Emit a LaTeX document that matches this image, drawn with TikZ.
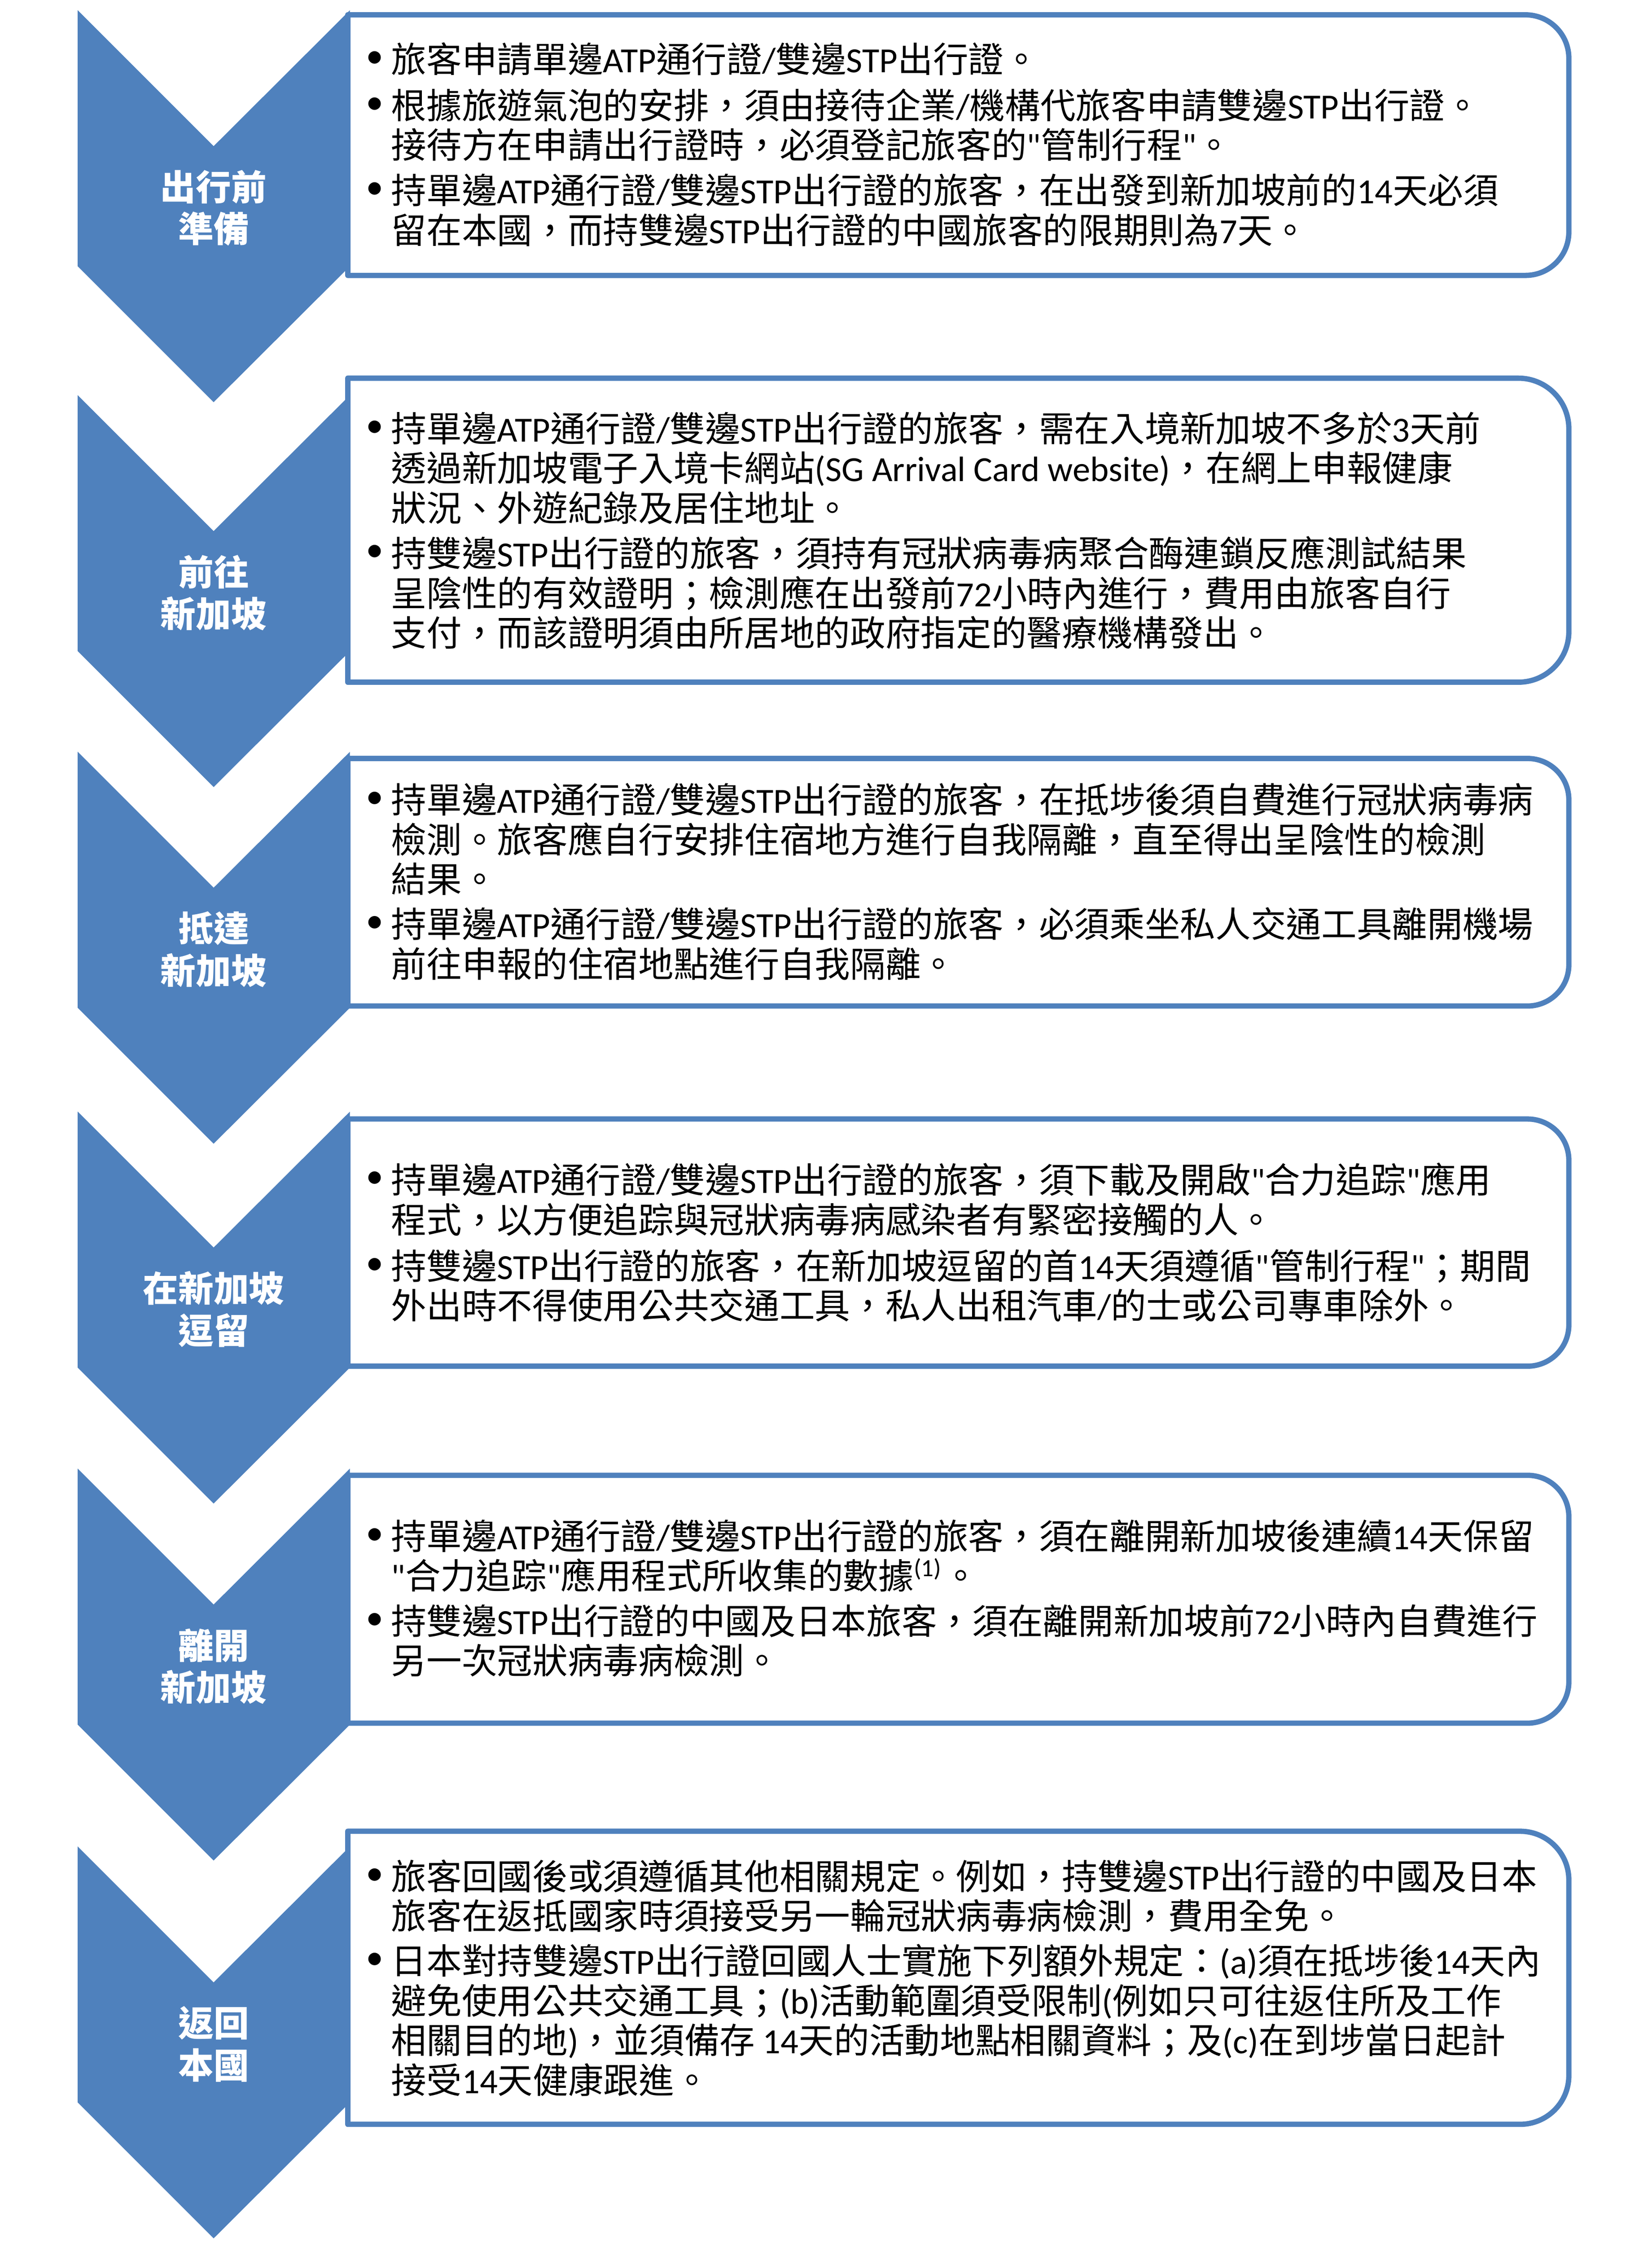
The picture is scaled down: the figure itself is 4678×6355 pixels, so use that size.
\documentclass[tikz,border=0pt]{standalone}
\usepackage{fontspec}
\setmainfont{Noto Sans CJK TC}
\newfontfamily\lat{Carlito}
\newcommand\en[1]{{\lat#1}}
\definecolor{chevblue}{RGB}{79,129,189}
\tikzset{
  chev/.style={fill=chevblue},
  panel/.style={draw=chevblue, line width=1.5pt, fill=white, line join=round},
  title/.style={text=white, font=\bfseries\fontsize{10}{11.9}\selectfont, align=center, inner sep=0pt},
  dot/.style={font=\lat\fontsize{10}{11.25}\selectfont, inner sep=0pt},
  para/.style={anchor=north west, font=\fontsize{10}{11.25}\selectfont, align=left, inner sep=0pt}
}
\begin{document}
\begin{tikzpicture}[x=0.1pt, y=-0.1pt]
  \useasboundingbox (0,0) rectangle (4678,6355);
  % text panels
  \draw[panel] (985,42) -- (2700,42) [rounded corners=12.3pt] -- (4443,42) -- (4443,780) -- (2700,780) [sharp corners] -- (985,780) -- cycle;
  \draw[panel] (985,1071) -- (2700,1071) [rounded corners=14.3pt] -- (4443,1071) -- (4443,1932) -- (2700,1932) [sharp corners] -- (985,1932) -- cycle;
  \draw[panel] (985,2148) -- (2700,2148) [rounded corners=11.7pt] -- (4443,2148) -- (4443,2849) -- (2700,2849) [sharp corners] -- (985,2849) -- cycle;
  \draw[panel] (985,3169) -- (2700,3169) [rounded corners=11.7pt] -- (4443,3169) -- (4443,3869) -- (2700,3869) [sharp corners] -- (985,3869) -- cycle;
  \draw[panel] (985,4178) -- (2700,4178) [rounded corners=11.7pt] -- (4443,4178) -- (4443,4880) -- (2700,4880) [sharp corners] -- (985,4880) -- cycle;
  \draw[panel] (985,5186) -- (2700,5186) [rounded corners=13.8pt] -- (4443,5186) -- (4443,6016) -- (2700,6016) [sharp corners] -- (985,6016) -- cycle;
  % chevrons
  \fill[chev] (220,29) -- (605,414) -- (991,29) -- (991,754) -- (605,1139) -- (220,754) -- cycle;
  \fill[chev] (220,1119) -- (605,1504) -- (991,1119) -- (991,1844) -- (605,2229) -- (220,1844) -- cycle;
  \fill[chev] (220,2129) -- (605,2514) -- (991,2129) -- (991,2854) -- (605,3239) -- (220,2854) -- cycle;
  \fill[chev] (220,3148) -- (605,3533) -- (991,3148) -- (991,3873) -- (605,4258) -- (220,3873) -- cycle;
  \fill[chev] (220,4159) -- (605,4544) -- (991,4159) -- (991,4884) -- (605,5269) -- (220,4884) -- cycle;
  \fill[chev] (220,5229) -- (605,5614) -- (991,5229) -- (991,5954) -- (605,6339) -- (220,5954) -- cycle;
  % stage titles
  \node[title] (t1) at (605,589) {出行前\\準備};
  \node[title] (t2) at (605,1679) {前往\\新加坡};
  \node[title] (t3) at (605,2689) {抵達\\新加坡};
  \node[title] (t4) at (605,3708) {在新加坡\\逗留};
  \node[title] (t5) at (605,4719) {離開\\新加坡};
  \node[title] (t6) at (605,5789) {返回\\本國};
  % panel 1
  \node[dot] (d1a) at (1061,168) {•};
  \node[para] (p1a) at (1106,118) {旅客申請單邊\en{ATP}通行證\en{/}雙邊\en{STP}出行證。};
  \node[dot] (d1b) at (1061,299) {•};
  \node[para] (p1b) at (1106,249) {根據旅遊氣泡的安排，須由接待企業\en{/}機構代旅客申請雙邊\en{STP}出行證。\\接待方在申請出行證時，必須登記旅客的\en{"}管制行程\en{"}。};
  \node[dot] (d1c) at (1061,540) {•};
  \node[para] (p1c) at (1106,490) {持單邊\en{ATP}通行證\en{/}雙邊\en{STP}出行證的旅客，在出發到新加坡前的\en{14}天必須\\留在本國，而持雙邊\en{STP}出行證的中國旅客的限期則為\en{7}天。};
  % panel 2
  \node[dot] (d2a) at (1061,1214) {•};
  \node[para] (p2a) at (1106,1164) {持單邊\en{ATP}通行證\en{/}雙邊\en{STP}出行證的旅客，需在入境新加坡不多於\en{3}天前\\透過新加坡電子入境卡網站\en{(SG Arrival Card website)}，在網上申報健康\\狀況、外遊紀錄及居住地址。};
  \node[dot] (d2b) at (1061,1567) {•};
  \node[para] (p2b) at (1106,1517) {持雙邊\en{STP}出行證的旅客，須持有冠狀病毒病聚合酶連鎖反應測試結果\\呈陰性的有效證明；檢測應在出發前\en{72}小時內進行，費用由旅客自行\\支付，而該證明須由所居地的政府指定的醫療機構發出。};
  % panel 3
  \node[dot] (d3a) at (1061,2266) {•};
  \node[para] (p3a) at (1106,2216) {持單邊\en{ATP}通行證\en{/}雙邊\en{STP}出行證的旅客，在抵埗後須自費進行冠狀病毒病\\檢測。旅客應自行安排住宿地方進行自我隔離，直至得出呈陰性的檢測\\結果。};
  \node[dot] (d3b) at (1061,2618) {•};
  \node[para] (p3b) at (1106,2568) {持單邊\en{ATP}通行證\en{/}雙邊\en{STP}出行證的旅客，必須乘坐私人交通工具離開機場\\前往申報的住宿地點進行自我隔離。};
  % panel 4
  \node[dot] (d4a) at (1061,3341) {•};
  \node[para] (p4a) at (1106,3291) {持單邊\en{ATP}通行證\en{/}雙邊\en{STP}出行證的旅客，須下載及開啟\en{"}合力追踪\en{"}應用\\程式，以方便追踪與冠狀病毒病感染者有緊密接觸的人。};
  \node[dot] (d4b) at (1061,3586) {•};
  \node[para] (p4b) at (1106,3536) {持雙邊\en{STP}出行證的旅客，在新加坡逗留的首\en{14}天須遵循\en{"}管制行程\en{"}；期間\\外出時不得使用公共交通工具，私人出租汽車\en{/}的士或公司專車除外。};
  % panel 5
  \node[dot] (d5a) at (1061,4351) {•};
  \node[para] (p5a) at (1106,4301) {持單邊\en{ATP}通行證\en{/}雙邊\en{STP}出行證的旅客，須在離開新加坡後連續\en{14}天保留\\\en{"}合力追踪\en{"}應用程式所收集的數據\textsuperscript{\en{(1)}}。};
  \node[dot] (d5b) at (1061,4591) {•};
  \node[para] (p5b) at (1106,4541) {持雙邊\en{STP}出行證的中國及日本旅客，須在離開新加坡前\en{72}小時內自費進行\\另一次冠狀病毒病檢測。};
  % panel 6
  \node[dot] (d6a) at (1061,5314) {•};
  \node[para] (p6a) at (1106,5264) {旅客回國後或須遵循其他相關規定。例如，持雙邊\en{STP}出行證的中國及日本\\旅客在返抵國家時須接受另一輪冠狀病毒病檢測，費用全免。};
  \node[dot] (d6b) at (1061,5554) {•};
  \node[para] (p6b) at (1106,5504) {日本對持雙邊\en{STP}出行證回國人士實施下列額外規定：\en{(a)}須在抵埗後\en{14}天內\\避免使用公共交通工具；\en{(b)}活動範圍須受限制\en{(}例如只可往返住所及工作\\相關目的地\en{)}，並須備存\ \en{14}天的活動地點相關資料；及\en{(c)}在到埗當日起計\\接受\en{14}天健康跟進。};
\end{tikzpicture}
\end{document}
